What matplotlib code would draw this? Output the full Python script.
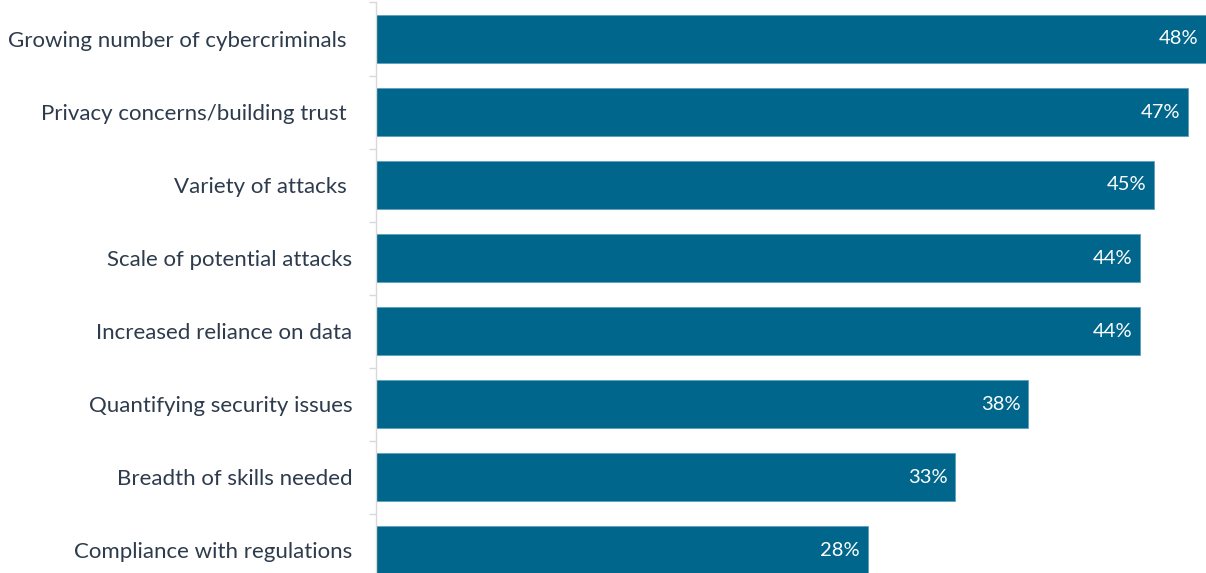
import matplotlib
matplotlib.use("Agg")
import matplotlib.pyplot as plt

categories = ["Growing number of cybercriminals ", "Privacy concerns/building trust ", "Variety of attacks ",
              "Scale of potential attacks", "Increased reliance on data", "Quantifying security issues",
              "Breadth of skills needed", "Compliance with regulations"]
values = [48.2, 46.8, 44.85, 44.05, 44.05, 37.6, 33.4, 28.35]
labels = ["48%", "47%", "45%", "44%", "44%", "38%", "33%", "28%"]

plt.rcParams['font.family'] = ['Lato', 'DejaVu Sans']
W, H = 1206, 573
fig = plt.figure(figsize=(W/100, H/100), dpi=100)
top = 2.5
bot = 586.5
ax = fig.add_axes([376/W, 1 - bot/H, (W-376)/W, (bot-top)/H])

XMAX = 830/17.35
n = len(categories)
ys = list(range(n))
ax.barh(ys, values, height=0.658, color="#00668c", edgecolor="#5a9fbf", linewidth=0.6)
ax.set_ylim(n - 0.5, -0.5)
ax.set_xlim(0, XMAX)

for y, v, lab in zip(ys, values, labels):
    ax.annotate(lab, xy=(min(v, XMAX), y), xytext=(-8, 0), textcoords="offset pixels",
                ha="right", va="center", color="white", fontsize=14.5)

ax.set_yticks(ys)
ax.set_yticklabels(categories, fontsize=16, color="#2d3b4c")
ax.tick_params(axis="y", which="major", length=0, pad=17)
ax.set_yticks([i + 0.5 for i in range(-1, n)], minor=True)
ax.tick_params(axis="y", which="minor", length=5, color="#d9d9d9", width=1)
ax.set_xticks([])
for s in ["top", "right", "bottom"]:
    ax.spines[s].set_visible(False)
ax.spines["left"].set_color("#d9d9d9")
ax.spines["left"].set_linewidth(1)

fig.savefig("out.png", dpi=100)
